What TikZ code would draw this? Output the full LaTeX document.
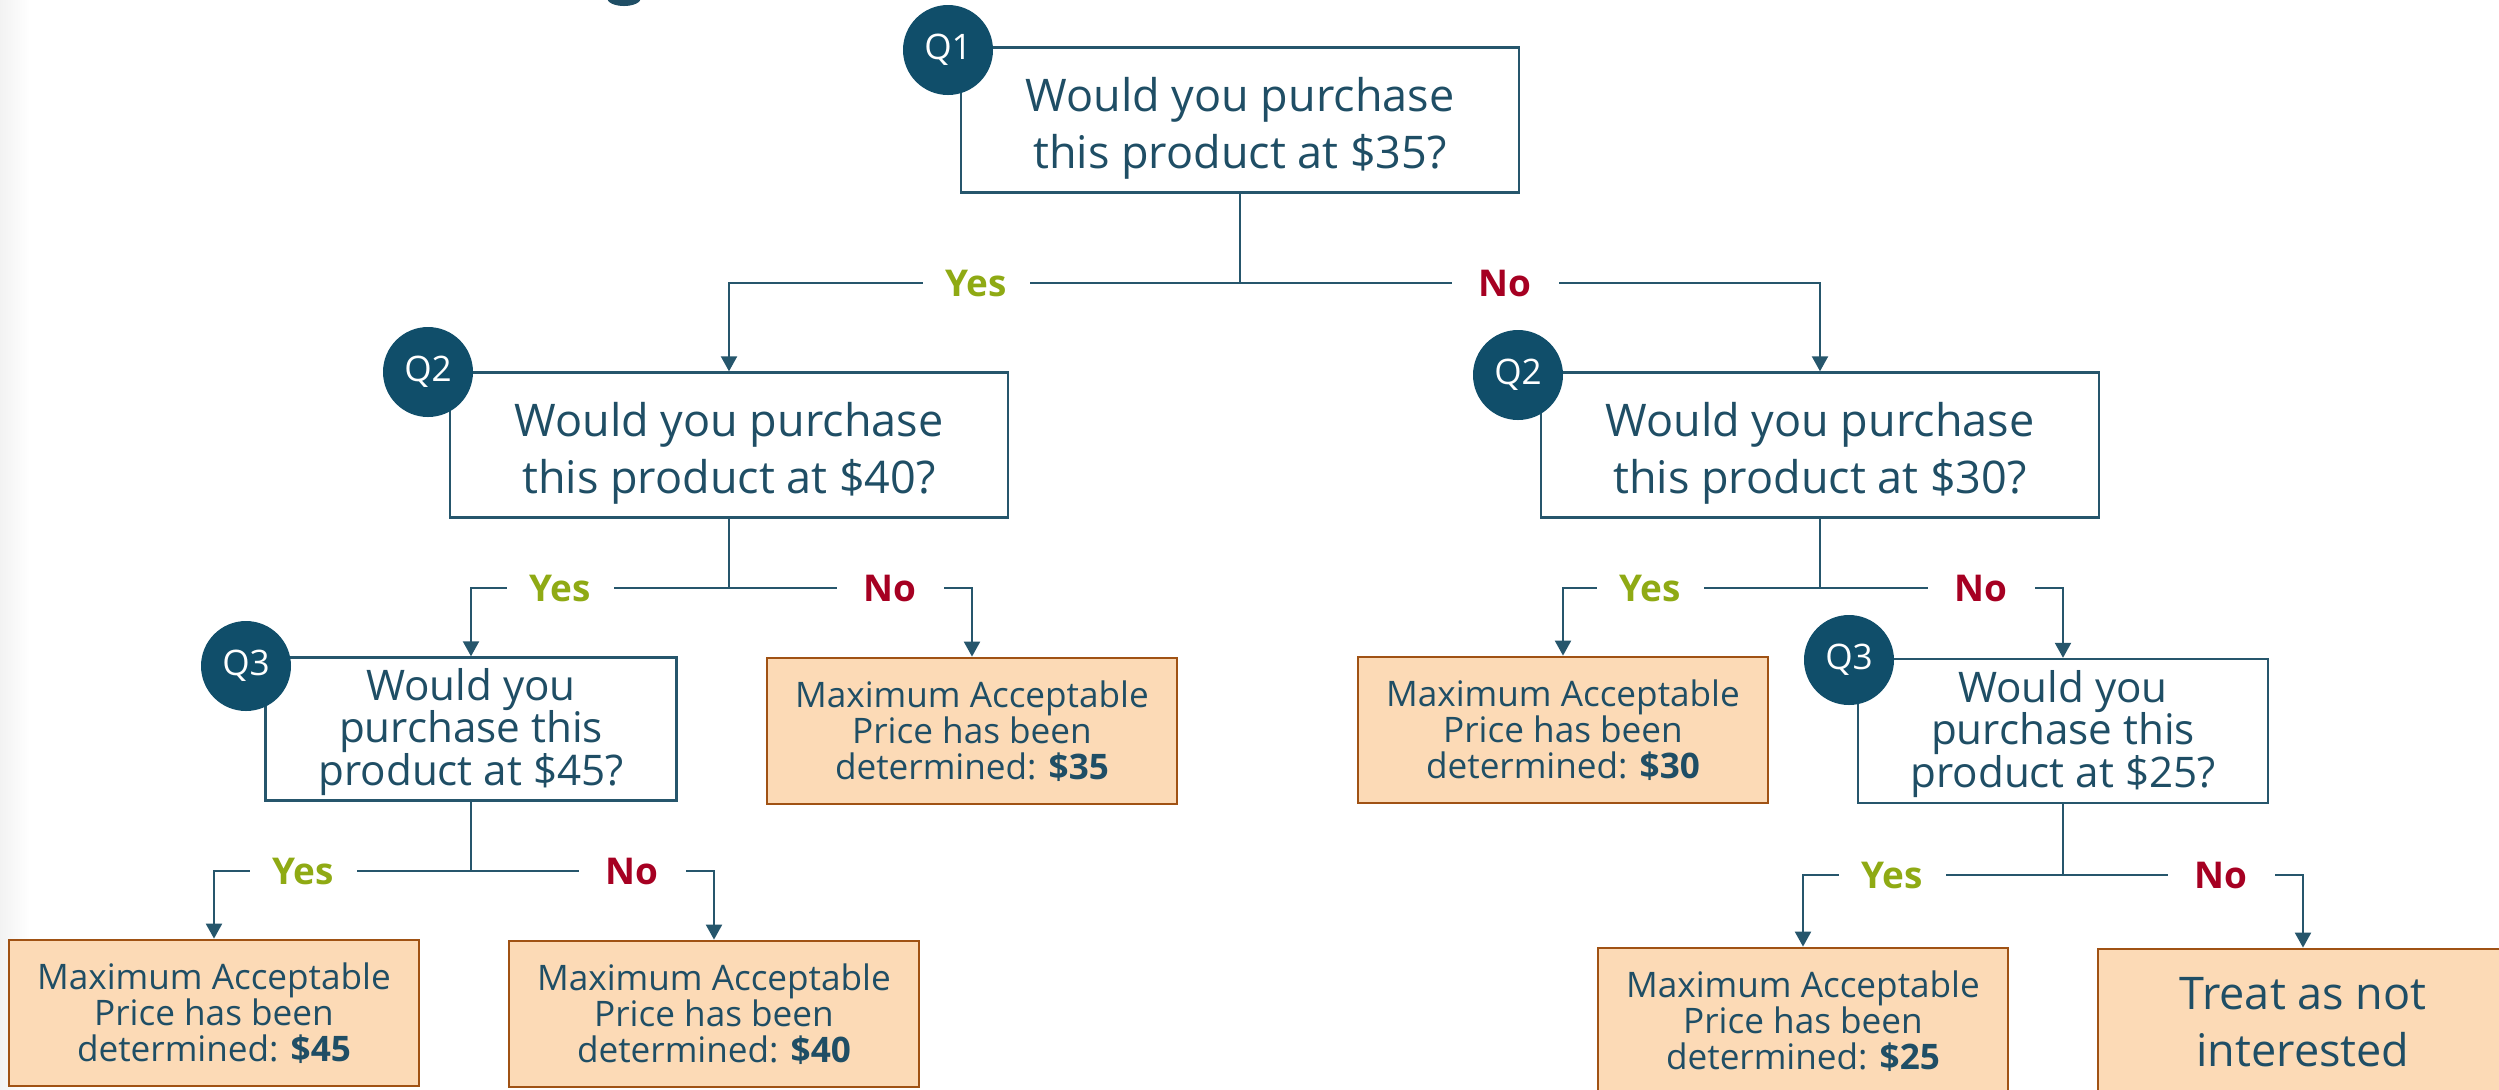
\documentclass[tikz,border=0pt]{standalone}
\usepackage{fontspec}
\setmainfont{Open Sans}
\usetikzlibrary{arrows.meta}
\definecolor{ink}{RGB}{31,78,101}
\definecolor{tagblue}{RGB}{16,78,106}
\definecolor{wire}{RGB}{38,86,108}
\definecolor{yesgreen}{RGB}{143,170,20}
\definecolor{nored}{RGB}{166,0,34}
\definecolor{peach}{RGB}{252,218,182}
\definecolor{rust}{RGB}{160,82,20}
\newcommand{\bigq}{\fontsize{12.8}{16.2}\selectfont}
\newcommand{\smallq}{\fontsize{12}{12.2}\selectfont}
\newcommand{\leaffont}{\fontsize{10}{10.3}\selectfont}
\newcommand{\qlift}[1]{\rule{0pt}{#1}}
\tikzset{
  qbox/.style={draw=wire, line width=0.24mm, fill=white, text=ink, align=center, inner sep=0pt},
  leafbox/.style={draw=rust, line width=0.28mm, fill=peach, text=ink, align=center, inner sep=0pt,
    minimum width=41mm, minimum height=14.6mm, font=\leaffont},
  qtag/.style={circle, fill=tagblue, text=white, minimum size=9mm, inner sep=0pt,
    font=\fontsize{10}{12}\selectfont},
  link/.style={draw=wire, line width=0.22mm},
  tip/.style={link, -{Triangle[width=1.6mm,length=1.5mm]}},
  yeslab/.style={fill=white, text=yesgreen, font=\fontsize{10.5}{12}\selectfont\bfseries,
    minimum width=10.7mm, inner sep=0pt},
  nolab/.style={yeslab, text=nored},
}
\begin{document}
\begin{tikzpicture}[x=0.1mm, y=-0.1mm]
\useasboundingbox (0,0) rectangle (2499,1089);
\clip (0,0) rectangle (2499,1089);
\shade[left color=gray!10, right color=white] (0,0) rectangle (30,1089);
\fill[ink] (624,-2) ellipse [x radius=1.7mm, y radius=0.8mm];

% questions
\node[qbox, minimum width=55.8mm, minimum height=14.5mm, font=\bigq] (q1) at (1240,120)
  {\qlift{14.3pt}Would you purchase\\this product at \$35?};
\node[qbox, minimum width=55.8mm, minimum height=14.5mm, font=\bigq] (q2l) at (729,445)
  {\qlift{14.3pt}Would you purchase\\this product at \$40?};
\node[qbox, minimum width=55.8mm, minimum height=14.5mm, font=\bigq] (q2r) at (1820,445)
  {\qlift{14.3pt}Would you purchase\\this product at \$30?};
\node[qbox, minimum width=41.1mm, minimum height=14.3mm, font=\smallq] (q3l) at (471,729)
  {\qlift{10.8pt}Would you\\purchase this\\product at \$45?};
\node[qbox, minimum width=41mm, minimum height=14.4mm, font=\smallq] (q3r) at (2063,731)
  {\qlift{10.8pt}Would you\\purchase this\\product at \$25?};

% outcomes
\node[leafbox] (p35) at (972,731) {Maximum Acceptable\\Price has been\\determined: \textbf{\$35}};
\node[leafbox] (p30) at (1563,730) {Maximum Acceptable\\Price has been\\determined: \textbf{\$30}};
\node[leafbox] (p45) at (214,1013) {Maximum Acceptable\\Price has been\\determined: \textbf{\$45}};
\node[leafbox] (p40) at (714,1014) {Maximum Acceptable\\Price has been\\determined: \textbf{\$40}};
\node[leafbox] (p25) at (1803,1021) {Maximum Acceptable\\Price has been\\determined: \textbf{\$25}};
\node[leafbox, font=\bigq] (lost) at (2303,1022) {Treat as not\\interested};

% tags
\node[qtag] (t1) at (948,50) {Q1};
\node[qtag] (t2l) at (428,372) {Q2};
\node[qtag] (t2r) at (1518,375) {Q2};
\node[qtag] (t3l) at (246,666) {Q3};
\node[qtag] (t3r) at (1849,660) {Q3};

% branches
\coordinate (j1) at (1240,283);
\coordinate (j2l) at (729,588);
\coordinate (j2r) at (1820,588);
\coordinate (j3l) at (471,871);
\coordinate (j3r) at (2063,875);
\draw[link] (q1.south) -- (j1);
\draw[tip] (j1) -| (q2l.north);
\draw[tip] (j1) -| (q2r.north);
\draw[link] (q2l.south) -- (j2l);
\draw[tip] (j2l) -| (q3l.north);
\draw[tip] (j2l) -| (p35.north);
\draw[link] (q2r.south) -- (j2r);
\draw[tip] (j2r) -| (p30.north);
\draw[tip] (j2r) -| (q3r.north);
\draw[link] (q3l.south) -- (j3l);
\draw[tip] (j3l) -| (p45.north);
\draw[tip] (j3l) -| (p40.north);
\draw[link] (q3r.south) -- (j3r);
\draw[tip] (j3r) -| (p25.north);
\draw[tip] (j3r) -| (lost.north);

% answers
\node[yeslab] (y1) at (976,283) {Yes};
\node[nolab] (n1) at (1505,283) {No};
\node[yeslab] (y2l) at (560,588) {Yes};
\node[nolab] (n2l) at (890,588) {No};
\node[yeslab] (y2r) at (1650,588) {Yes};
\node[nolab] (n2r) at (1981,588) {No};
\node[yeslab] (y3l) at (303,871) {Yes};
\node[nolab] (n3l) at (632,871) {No};
\node[yeslab] (y3r) at (1892,875) {Yes};
\node[nolab] (n3r) at (2221,875) {No};
\end{tikzpicture}
\end{document}
